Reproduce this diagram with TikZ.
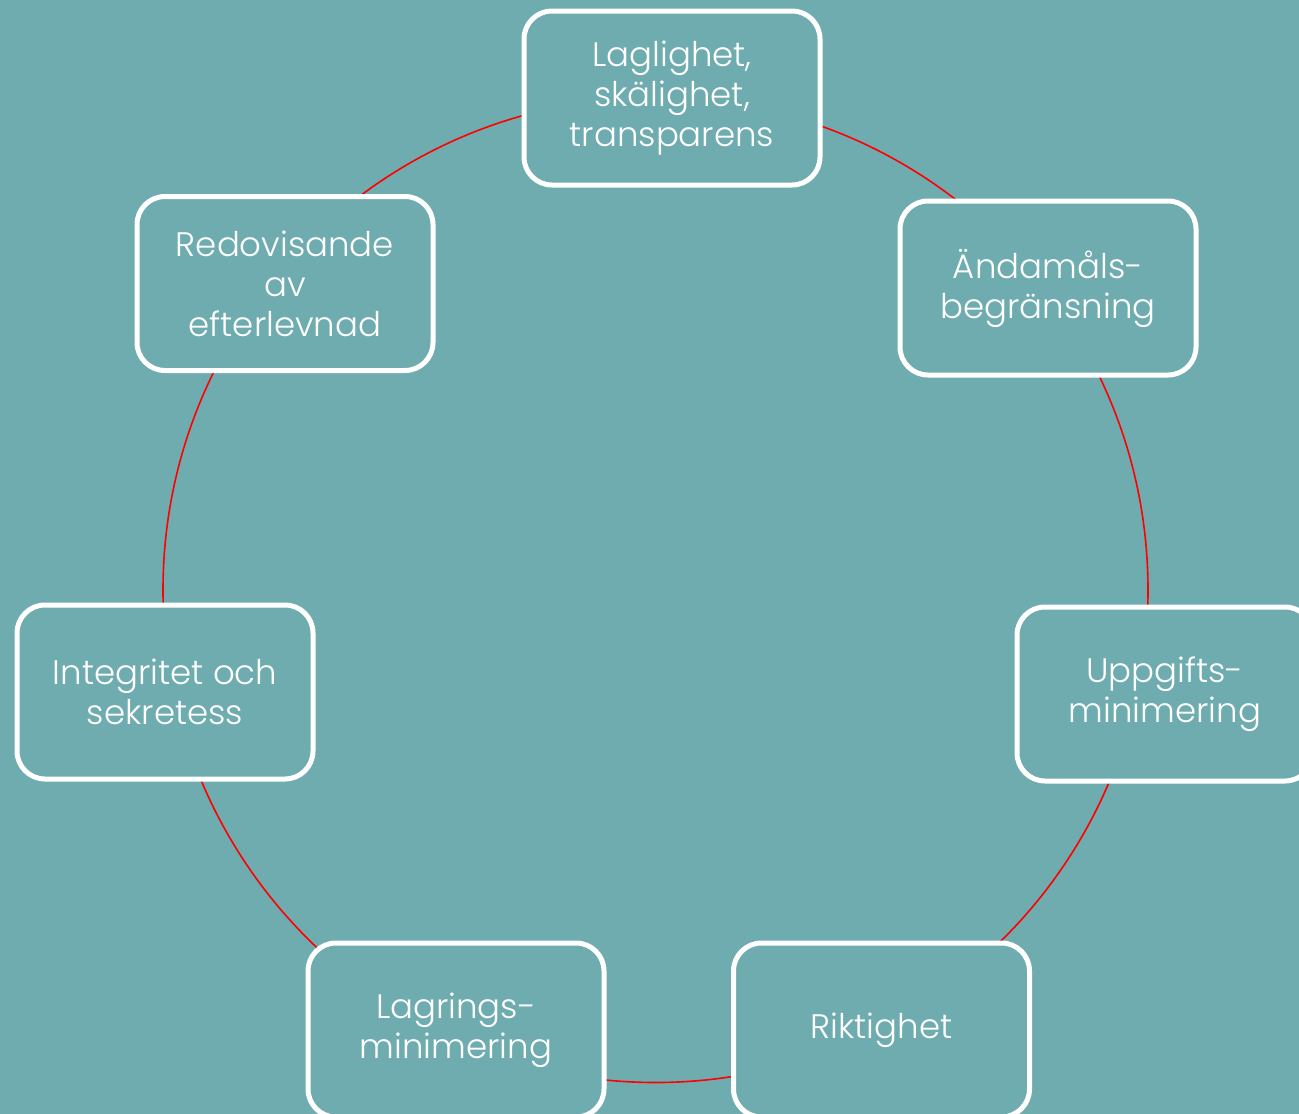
\documentclass[tikz,border=0pt]{standalone}
\usepackage{fontspec}
\setmainfont{Poppins}[UprightFont=* Light]
\definecolor{bgteal}{RGB}{111,172,176}
\begin{document}
\begin{tikzpicture}[x=1pt,y=-1pt,
  box/.style={draw=white, line width=5pt, fill=bgteal, rounded corners=28pt,
    minimum width=296pt, minimum height=174pt, text=white, align=center,
    font=\fontsize{34}{40}\selectfont, inner sep=0pt},
  ring/.style={draw=red, line width=1.6pt}]
  \fill[bgteal] (0,0) rectangle (1299,1114);
  \useasboundingbox (0,0) rectangle (1299,1114);
  % connecting ring behind the boxes
  \coordinate (c) at (655.5,590);
  \draw[ring] (c) circle[radius=492.5pt];
  \node[box] (lag) at (672,98) {Laglighet,\\skälighet,\\transparens};
  \node[box] (and) at (1048,288) {Ändamåls-\\begränsning};
  \node[box] (upp) at (1165,694) {Uppgifts-\\minimering};
  \node[box] (rik) at (881.5,1030) {Riktighet};
  \node[box] (lagr) at (456,1030) {Lagrings-\\minimering};
  \node[box] (int) at (165,692) {Integritet och\\sekretess};
  \node[box] (red) at (285,283.5) {Redovisande\\av\\efterlevnad};
\end{tikzpicture}
\end{document}
